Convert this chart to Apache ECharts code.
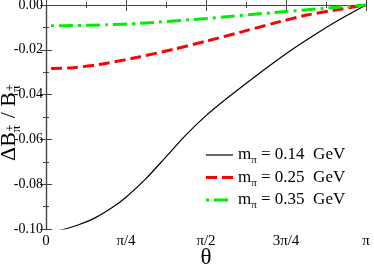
<!DOCTYPE html>
<html><head><meta charset="utf-8">
<script src="https://cdn.jsdelivr.net/npm/echarts@6/dist/echarts.min.js"></script>
<style>html,body{margin:0;padding:0;background:#fff}#c{width:374px;height:267px}</style>
</head><body><div id="c"></div>
<script>
// x values are theta in units of pi
const tickLabels = ['0', 'π/4', 'π/2', '3π/4', 'π'];
const massLabels = ['0.14', '0.25', '0.35'];

const theta014 = [0.016, 0.06, 0.104, 0.156, 0.208, 0.25, 0.3125, 0.375, 0.4375, 0.5, 0.5625, 0.62, 0.69, 0.7625, 0.846, 0.919, 1.0];
const ratio014 = [-0.1012, -0.1000, -0.0980, -0.0948, -0.0903, -0.0858, -0.0775, -0.0678, -0.0580, -0.0494, -0.0420, -0.0356, -0.0280, -0.0205, -0.0127, -0.0064, 0.0];

const theta025 = [0.016, 0.085, 0.19, 0.294, 0.398, 0.502, 0.606, 0.71, 0.815, 0.919, 1.0];
const ratio025 = [-0.0283, -0.0280, -0.0260, -0.0231, -0.0198, -0.0161, -0.0122, -0.0082, -0.0045, -0.0019, 0.0];

const theta035 = [0.016, 0.085, 0.19, 0.294, 0.502, 0.71, 0.867, 1.0];
const ratio035 = [-0.0093, -0.0092, -0.0088, -0.0082, -0.0060, -0.0034, -0.0015, 0.0];

const FONT = "'Liberation Serif', 'DejaVu Serif', serif";
const AX = '#444';
const COLORS = ['#000000', '#ff0000', '#00ee00'];
const WIDTHS = [1.2, 3, 3];
const DASHES = ['solid', [11, 5], [3, 5, 14, 5]];

function pairs(xs, ys) { return xs.map((x, i) => [x, ys[i]]); }
const names = massLabels.map(m => 'm_π = ' + m + ' GeV');

const chart = echarts.init(document.getElementById('c'), null, {renderer: 'canvas'});

const commonX = {
  type: 'value', min: 0, max: 1, interval: 0.25,
  axisLine: {show: true, lineStyle: {color: AX, width: 1.2}},
  axisTick: {show: true, inside: true, length: 6, lineStyle: {color: AX}},
  minorTick: {show: true, splitNumber: 2, length: 3, lineStyle: {color: AX}},
  splitLine: {show: false}, minorSplitLine: {show: false}
};
const commonY = {
  type: 'value', min: -0.1, max: 0, interval: 0.02,
  axisLine: {show: true, lineStyle: {color: AX, width: 1.2}},
  axisTick: {show: true, inside: true, length: 6, lineStyle: {color: AX}},
  minorTick: {show: true, splitNumber: 2, length: 3, lineStyle: {color: AX}},
  splitLine: {show: false}, minorSplitLine: {show: false}
};

// measure widths for y title
const ctx = document.createElement('canvas').getContext('2d');
function w(t, size) { ctx.font = size + 'px ' + FONT; return ctx.measureText(t).width; }
const MAIN = 22, SUB = 13;
const parts = [];
let lx = 0;
function addMain(t) { parts.push({type: 'text', x: lx, y: 0, style: {text: t, font: MAIN + 'px ' + FONT, fill: '#000', align: 'left', verticalAlign: 'middle'}}); lx += w(t, MAIN); }
function addSubSup() {
  parts.push({type: 'text', x: lx + 0.5, y: 2, style: {text: '+', font: SUB + 'px ' + FONT, fill: '#000', align: 'left', verticalAlign: 'middle'}});
  parts.push({type: 'text', x: lx, y: 8, style: {text: 'π', font: SUB + 'px ' + FONT, fill: '#000', align: 'left', verticalAlign: 'middle'}});
  lx += Math.max(w('+', SUB), w('π', SUB)) + 1;
}
addMain('ΔB'); addSubSup(); addMain(' / B'); addSubSup();

// legend drawn as graphic (line samples + rich text)
const legendGraphics = [];
const LEG_X = 206, LEG_Y = 155, LEG_DY = 22.5;
massLabels.forEach((m, i) => {
  const y = LEG_Y + i * LEG_DY;
  legendGraphics.push({
    type: 'line', shape: {x1: LEG_X, y1: y, x2: LEG_X + 27, y2: y},
    style: {stroke: COLORS[i], lineWidth: WIDTHS[i], lineDash: DASHES[i] === 'solid' ? null : DASHES[i]}
  });
  legendGraphics.push({
    type: 'text', x: LEG_X + 32, y: y,
    style: {
      text: '{m|m}{s|π}{m| = ' + m + '  GeV}',
      verticalAlign: 'middle', align: 'left',
      rich: {
        m: {font: '17px ' + FONT, fill: '#000', lineHeight: 22},
        s: {font: '11px ' + FONT, fill: '#000', lineHeight: 22, verticalAlign: 'bottom'}
      }
    }
  });
});

const option = {
  backgroundColor: '#fff',
  animation: false,
  grid: {left: 46, right: 8, top: 5, bottom: 38, containLabel: false, outerBoundsMode: 'none'},
  xAxis: [
    Object.assign({}, commonX, {
      position: 'bottom',
      axisLabel: {show: true, margin: 5, color: '#000', fontFamily: FONT, fontSize: 15,
        formatter: v => tickLabels[Math.round(v * 4)]},
      name: 'θ', nameLocation: 'middle', nameGap: 17, nameMoveOverlap: false,
      nameTextStyle: {color: '#000', fontFamily: FONT, fontSize: 23}
    }),
    Object.assign({}, commonX, {position: 'top', axisLabel: {show: false}})
  ],
  yAxis: [
    Object.assign({}, commonY, {
      position: 'left',
      axisLabel: {show: true, margin: 3, color: '#000', fontFamily: FONT, fontSize: 14,
        formatter: v => v.toFixed(2)}
    }),
    Object.assign({}, commonY, {position: 'right', axisLabel: {show: false}})
  ],
  series: [0, 1, 2].map(i => ({
    name: names[i], type: 'line',
    data: [pairs(theta014, ratio014), pairs(theta025, ratio025), pairs(theta035, ratio035)][i],
    smooth: 0.25, symbol: 'none', clip: true,
    lineStyle: {color: COLORS[i], width: WIDTHS[i], type: DASHES[i]},
    itemStyle: {color: COLORS[i]}
  })),
  graphic: [{
    type: 'group', x: 9, y: 161, rotation: Math.PI / 2,
    children: parts
  }].concat(legendGraphics)
};
chart.setOption(option);
</script>
</body></html>
